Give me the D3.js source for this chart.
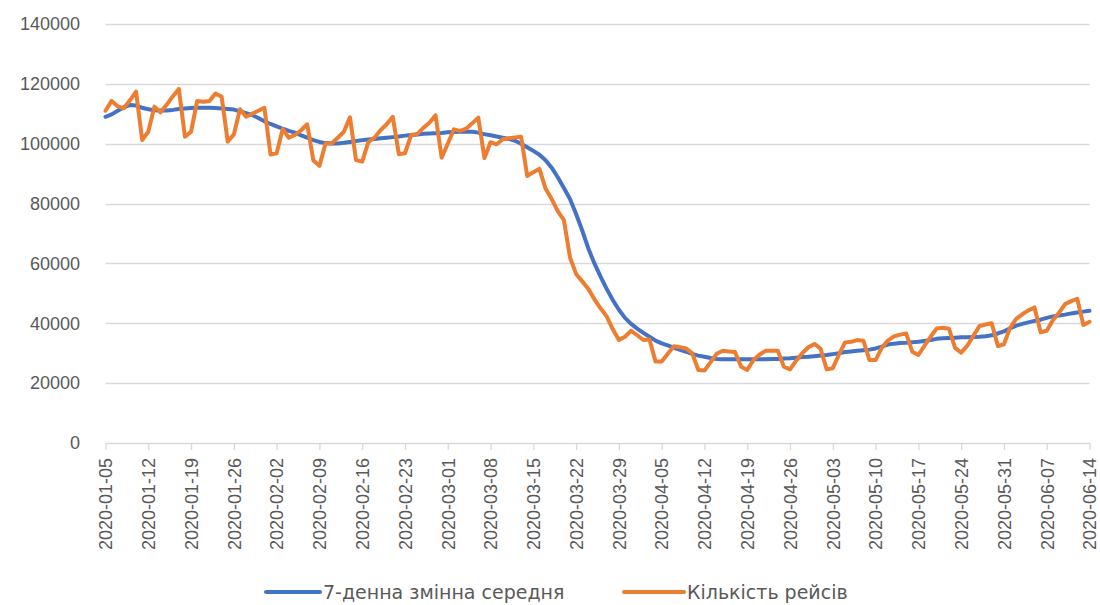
<!DOCTYPE html>
<html><head><meta charset="utf-8">
<script src="https://cdn.jsdelivr.net/npm/d3@7"></script>
<style>body{margin:0;background:#fff}svg{display:block}</style>
</head><body><svg id="chart" width="1100" height="605"></svg>
<script>
const startDate = "2020-01-05";
const endDate = "2020-06-14";
const tickLabels = ["2020-01-05","2020-01-12","2020-01-19","2020-01-26","2020-02-02","2020-02-09","2020-02-16","2020-02-23","2020-03-01","2020-03-08","2020-03-15","2020-03-22","2020-03-29","2020-04-05","2020-04-12","2020-04-19","2020-04-26","2020-05-03","2020-05-10","2020-05-17","2020-05-24","2020-05-31","2020-06-07","2020-06-14"];
const yTicks = [0,20000,40000,60000,80000,100000,120000,140000];
const seriesNames = ["7-денна змінна середня","Кількість рейсів"];
const movingAverage = [109000,109800,111000,112200,112900,112800,112000,111500,111200,111100,111100,111300,111600,111800,111900,112000,112000,112000,111900,111800,111600,111400,110800,110200,109600,108600,107500,106600,105800,105000,104300,103700,102800,102000,101200,100600,100200,100100,100100,100300,100600,100900,101200,101400,101600,101800,102000,102200,102400,102700,102900,103100,103300,103400,103500,103600,103800,103900,104000,104000,104000,103700,103200,102800,102400,102000,101600,101000,100000,98800,97600,96300,94500,92000,88800,85200,81500,76500,71000,65000,60000,55600,51500,47800,44500,41800,39800,38200,36800,35500,34200,33300,32600,31800,31100,30500,29800,29200,28800,28400,28100,28000,28000,28000,28000,28000,28000,28000,28000,28100,28100,28200,28300,28500,28700,28800,29000,29200,29400,29700,30000,30400,30600,30800,31000,31200,31600,32200,32900,33200,33400,33500,33700,33800,34100,34400,34800,35000,35100,35200,35300,35300,35400,35500,35700,36000,36600,37300,38300,39200,39800,40300,40800,41200,41800,42300,42600,42900,43300,43600,43900,44200];
const flights = [111000,114300,112500,111800,114500,117400,101200,104000,112400,110500,113000,115800,118300,102300,104000,114300,114000,114300,116800,115700,100700,103100,111500,109000,110000,111000,112000,96400,96800,104900,102000,102900,104500,106500,94500,92600,100100,100100,102000,104000,108800,94500,94000,100500,102000,104500,106500,109000,96500,96800,102900,103200,105300,107000,109500,95300,100000,104800,104300,105000,106800,108700,95200,100500,99800,101500,101800,102100,102300,89200,90500,91600,85000,81500,77500,74500,62000,56500,54000,51500,48000,45000,42300,38000,34400,35500,37500,36000,34400,34600,27200,27200,29800,32300,32000,31600,30000,24400,24200,27000,29800,30800,30600,30400,25500,24400,27700,29500,30800,30800,30800,25500,24600,27500,30000,32000,33100,31500,24600,25000,29500,33600,33800,34400,34200,27700,27700,31800,34200,35600,36200,36600,30500,29400,32500,35500,38300,38500,38200,31800,30200,32500,35800,39100,39600,40000,32400,33000,38500,41500,43000,44300,45300,37000,37500,41000,43500,46400,47400,48200,39400,40500];

const parse = d3.utcParse("%Y-%m-%d");
const dates = d3.utcDay.range(parse(startDate), d3.utcDay.offset(parse(endDate), 1));
const svg = d3.select("#chart");
const font = "'Liberation Sans', Arial, sans-serif";
const legendFont = "'DejaVu Sans', sans-serif";
const textColor = "#595959";
const gridColor = "#d9d9d9";

const x = d3.scaleUtc().domain([parse(startDate), parse(endDate)]).range([105.5, 1089.5]);
const y = d3.scaleLinear().domain([0, 140000]).range([443, 24]);

// gridlines
svg.append("g").selectAll("line").data(yTicks.filter(d => d > 0)).join("line")
  .attr("x1", x.range()[0]).attr("x2", x.range()[1])
  .attr("y1", d => Math.round(y(d)) + 0.5).attr("y2", d => Math.round(y(d)) + 0.5)
  .attr("stroke", gridColor).attr("stroke-width", 1.3);

// y labels
svg.append("g").selectAll("text").data(yTicks).join("text")
  .attr("x", 80).attr("y", d => y(d)).attr("dy", "0.35em")
  .attr("text-anchor", "end").attr("font-family", font).attr("font-size", 18)
  .attr("fill", textColor).text(d => d);

// x axis
const xAxis = d3.axisBottom(x)
  .tickValues(tickLabels.map(parse))
  .tickFormat(d3.utcFormat("%Y-%m-%d"))
  .tickSize(7).tickSizeOuter(0);
const gx = svg.append("g").attr("transform", "translate(0,443)").call(xAxis);
gx.select(".domain").attr("stroke", gridColor).attr("stroke-width", 1.3);
gx.selectAll(".tick line").attr("stroke", gridColor).attr("stroke-width", 1.3);
gx.selectAll(".tick text")
  .attr("transform", "rotate(-90)")
  .attr("x", -15).attr("y", 0).attr("dy", "0.35em")
  .attr("text-anchor", "end")
  .attr("font-family", font).attr("font-size", 18).attr("fill", textColor);

const line = d3.line().x((d, i) => x(dates[i])).y(d => y(d));
const colors = ["#4472C4", "#ED7D31"];
[movingAverage, flights].forEach((s, k) => {
  svg.append("path").datum(s).attr("d", line)
    .attr("fill", "none").attr("stroke", colors[k]).attr("stroke-width", 4)
    .attr("stroke-linejoin", "round").attr("stroke-linecap", "round");
});

// legend
const legendItems = [{x: 266, w: 54, name: seriesNames[0], c: colors[0]}, {x: 624, w: 60, name: seriesNames[1], c: colors[1]}];
const lg = svg.append("g");
legendItems.forEach(it => {
  lg.append("line").attr("x1", it.x).attr("x2", it.x + it.w).attr("y1", 592).attr("y2", 592)
    .attr("stroke", it.c).attr("stroke-width", 4).attr("stroke-linecap", "round");
  lg.append("text").attr("x", it.x + it.w + 3).attr("y", 592).attr("dy", "0.35em")
    .attr("font-family", legendFont).attr("font-size", 19).attr("fill", textColor).text(it.name);
});
</script></body></html>
